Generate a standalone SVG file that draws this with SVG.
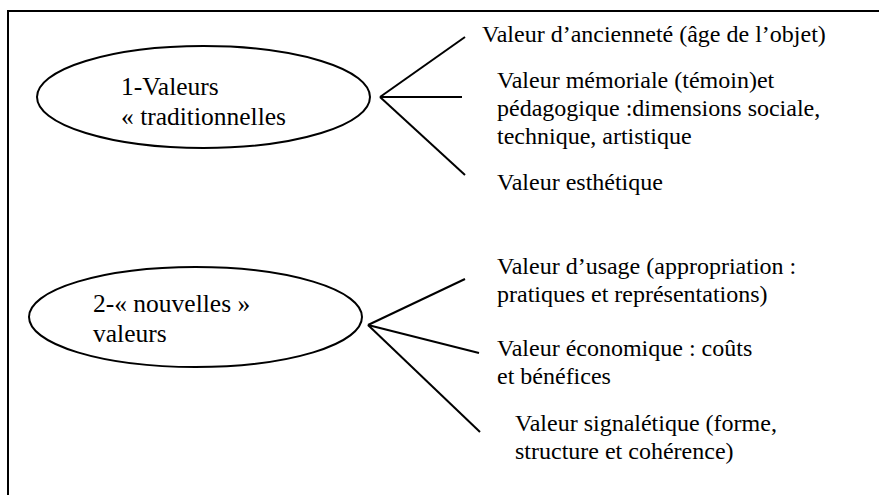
<svg xmlns="http://www.w3.org/2000/svg" width="879" height="495" viewBox="0 0 879 495">
  <style>
    .frame { fill: none; stroke: #000; stroke-width: 2; }
    .node ellipse { fill: #fff; stroke: #000; stroke-width: 2; }
    text { font-family: "Liberation Serif", "DejaVu Serif", "Times New Roman", Times, serif; fill: #000; }
    .title { font-size: 25.5px; }
    .item { font-size: 24px; }
    #connectors line { stroke: #000; stroke-width: 2; stroke-linecap: butt; }
  </style>
  <rect width="879" height="495" fill="#fff"/>
  <!-- outer frame: top and left edges, continuing past the canvas -->
  <rect class="frame" x="8" y="11" width="900" height="520"/>

  <g id="connectors">
    <line x1="380" y1="97" x2="465" y2="37"/>
    <line x1="380" y1="97" x2="462" y2="97"/>
    <line x1="380" y1="97" x2="465" y2="175"/>
    <line x1="368" y1="325" x2="465" y2="279"/>
    <line x1="368" y1="325" x2="479" y2="353"/>
    <line x1="368" y1="325" x2="480" y2="432"/>
  </g>

  <g id="node-traditionnelles" class="node">
    <ellipse cx="203.5" cy="97" rx="166.5" ry="51"/>
    <text class="title" x="121" y="95" font-family="Liberation Serif, DejaVu Serif, serif">1-Valeurs</text>
    <text class="title" x="121" y="125" font-family="Liberation Serif, DejaVu Serif, serif">« traditionnelles</text>
  </g>

  <g id="node-nouvelles" class="node">
    <ellipse cx="195.5" cy="317" rx="166.5" ry="50"/>
    <text class="title" x="93" y="312" font-family="Liberation Serif, DejaVu Serif, serif">2-« nouvelles »</text>
    <text class="title" x="93" y="342" font-family="Liberation Serif, DejaVu Serif, serif">valeurs</text>
  </g>

  <g id="item-anciennete">
    <text class="item" x="482" y="42">Valeur d’ancienneté (âge de l’objet)</text>
  </g>
  <g id="item-memoriale">
    <text class="item" x="497" y="88">Valeur mémoriale (témoin)et</text>
    <text class="item" x="497" y="116">pédagogique :dimensions sociale,</text>
    <text class="item" x="497" y="144">technique, artistique</text>
  </g>
  <g id="item-esthetique">
    <text class="item" x="497" y="190">Valeur esthétique</text>
  </g>
  <g id="item-usage">
    <text class="item" x="497" y="274">Valeur d’usage (appropriation :</text>
    <text class="item" x="497" y="302">pratiques et représentations)</text>
  </g>
  <g id="item-economique">
    <text class="item" x="497" y="356">Valeur économique : coûts</text>
    <text class="item" x="497" y="384">et bénéfices</text>
  </g>
  <g id="item-signaletique">
    <text class="item" x="515" y="431">Valeur signalétique (forme,</text>
    <text class="item" x="515" y="459">structure et cohérence)</text>
  </g>
</svg>
